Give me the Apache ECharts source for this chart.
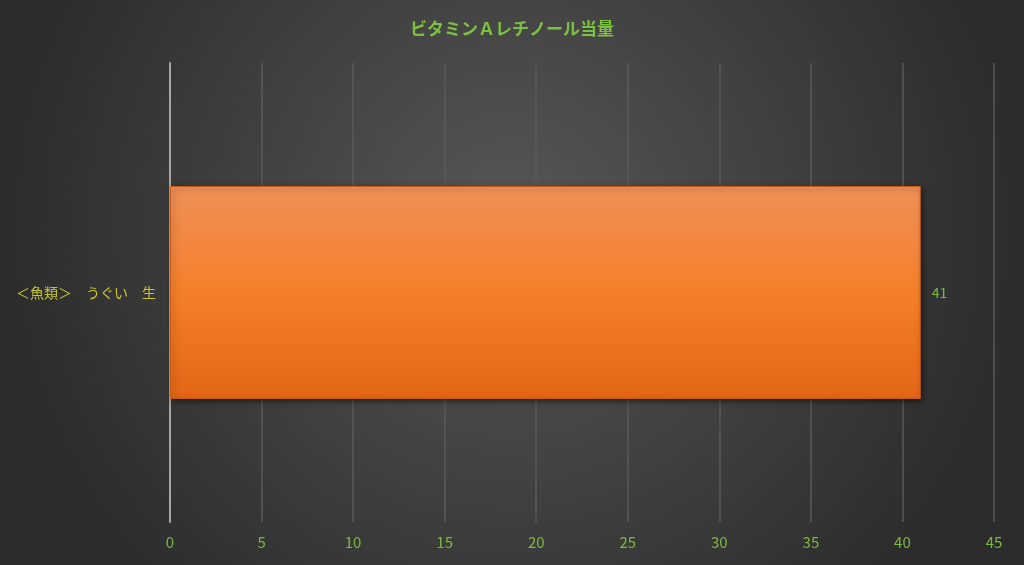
<!DOCTYPE html>
<html>
<head>
<meta charset="utf-8">
<script src="https://cdn.jsdelivr.net/npm/echarts@6/dist/echarts.min.js"></script>
<style>
html,body{margin:0;padding:0;width:1024px;height:565px;overflow:hidden;}
#c{width:1024px;height:565px;}
</style>
</head>
<body>
<div id="c"></div>
<script>
const titleText = 'ビタミンＡレチノール当量';
const categories = ['＜魚類＞　うぐい　生'];
const values = [41];
const axisMin = 0, axisMax = 45, axisInterval = 5;

const chart = echarts.init(document.getElementById('c'));
chart.setOption({
  backgroundColor: {
    type: 'radial', x: 0.5, y: 0.4, r: 0.9,
    colorStops: [
      {offset: 0, color: '#575757'},
      {offset: 1, color: '#2c2c2c'}
    ]
  },
  title: {
    text: titleText,
    left: 'center',
    top: 15,
    textStyle: {color: '#7dc142', fontSize: 17, fontWeight: 'bold', fontFamily: 'Noto Sans CJK JP'}
  },
  grid: {left: 170, right: 30, top: 63, bottom: 43, containLabel: false},
  xAxis: {
    type: 'value', min: axisMin, max: axisMax, interval: axisInterval,
    axisLine: {show: false},
    axisTick: {show: false},
    splitLine: {show: true, lineStyle: {color: '#5a5a5a', width: 1.5}},
    axisLabel: {color: '#7cb940', fontSize: 15, margin: 13, fontFamily: 'Noto Sans CJK JP'}
  },
  yAxis: {
    type: 'category', data: categories,
    axisLine: {show: true, lineStyle: {color: '#a6a6a6', width: 2}},
    axisTick: {show: false},
    axisLabel: {color: '#c8c62c', fontSize: 14, margin: 14, fontFamily: 'Noto Sans CJK JP'}
  },
  series: [{
    type: 'bar',
    data: values,
    barWidth: 213,
    itemStyle: {
      color: {
        type: 'linear', x: 0, y: 0, x2: 0, y2: 1,
        colorStops: [
          {offset: 0, color: '#f09058'},
          {offset: 0.5, color: '#f47f2a'},
          {offset: 1, color: '#e46616'}
        ]
      },
      borderColor: '#c85a18', borderWidth: 1,
      shadowColor: 'rgba(0,0,0,0.5)', shadowBlur: 6, shadowOffsetX: 2, shadowOffsetY: 2
    },
    label: {show: true, position: 'right', distance: 11, color: '#7cb940', fontSize: 14, fontFamily: 'Noto Sans CJK JP'}
  }]
});
</script>
</body>
</html>
